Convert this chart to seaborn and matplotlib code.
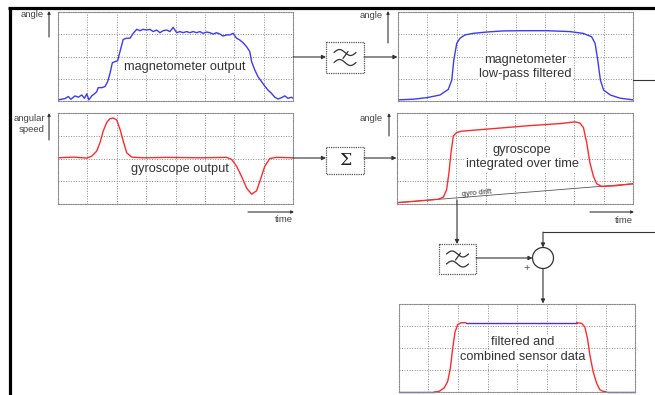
import numpy as np
import pandas as pd
import matplotlib
matplotlib.use("Agg")
import matplotlib.pyplot as plt
import seaborn as sns
from matplotlib.patches import Rectangle, Circle

sns.set_theme(style="white")
plt.rcParams['font.family'] = ['Liberation Sans', 'DejaVu Sans']

# ---------------- data ----------------
# magnetometer output (noisy)
mag_x = [0, 0.13, 0.24, 0.35, 0.44, 0.58, 0.69, 0.81, 0.90, 0.98,
         1.05, 1.15, 1.24, 1.32, 1.37, 1.49, 1.60, 1.69, 1.77, 1.85,
         1.94, 2.03, 2.11, 2.22, 2.34, 2.45, 2.56, 2.68, 2.79, 2.90,
         3.02, 3.13, 3.24, 3.36, 3.47, 3.58, 3.70, 3.81, 3.92, 4.04,
         4.15, 4.26, 4.38, 4.49, 4.60, 4.72, 4.83, 4.94, 5.06, 5.17,
         5.28, 5.40, 5.51, 5.62, 5.74, 5.85, 5.96, 6.08, 6.19, 6.30,
         6.42, 6.53, 6.59, 6.70, 6.81, 6.93, 7.04, 7.15, 7.27, 7.38,
         7.49, 7.61, 7.72, 7.83, 7.95, 8.0]
mag_y = [0.05, 0.08, 0.11, 0.20, 0.08, 0.23, 0.17, 0.27, 0.12, 0.32,
         0.05, 0.23, 0.32, 0.42, 0.60, 0.60, 0.65, 0.87, 1.24, 1.72,
         1.77, 1.81, 2.22, 2.77, 2.82, 2.82, 3.04, 3.22, 3.16, 3.22,
         3.19, 3.22, 3.12, 3.19, 3.07, 3.16, 3.19, 3.12, 3.31, 3.07,
         3.12, 3.07, 3.12, 3.07, 3.12, 3.07, 3.12, 3.04, 3.10, 3.07,
         3.01, 3.07, 3.01, 2.92, 2.97, 2.97, 3.04, 2.82, 2.74, 2.62,
         2.44, 2.22, 1.77, 1.39, 1.09, 0.87, 0.67, 0.49, 0.34, 0.17,
         0.09, 0.15, 0.23, 0.12, 0.17, 0.12]

# magnetometer low-pass filtered
lp_x = [0, 0.52, 0.98, 1.43, 1.71, 1.83, 1.90, 2.00, 2.11, 2.28, 2.56, 3.02, 3.58,
        4.26, 5.06, 5.85, 6.30, 6.59, 6.71, 6.80, 6.89, 7.00, 7.23, 7.55, 8.0]
lp_y = [0.05, 0.08, 0.15, 0.27, 0.52, 0.94, 1.84, 2.59, 2.82, 2.97, 3.04, 3.10, 3.15,
        3.16, 3.16, 3.12, 3.04, 2.89, 2.59, 1.84, 0.94, 0.49, 0.27, 0.13, 0.05]

# gyroscope output (angular speed)
gyro_x = [0, 0.52, 0.98, 1.15, 1.32, 1.43, 1.54, 1.66, 1.77, 1.88, 2.00, 2.11, 2.22, 2.34, 2.51,
          2.90, 3.70, 4.83, 5.74, 5.91, 6.08, 6.25, 6.42, 6.59, 6.76, 6.87, 7.04, 7.21, 7.44, 8.0]
gyro_y = [2.03, 2.06, 2.02, 2.10, 2.33, 2.70, 3.21, 3.59, 3.75, 3.78, 3.69, 3.29, 2.77, 2.25, 2.06,
          2.03, 2.05, 2.03, 2.05, 1.96, 1.66, 1.21, 0.70, 0.43, 0.58, 0.99, 1.66, 2.00, 2.05, 2.03]

# gyroscope integrated over time
integ_x = [0, 0.61, 1.40, 1.57, 1.68, 1.76, 1.83, 1.91, 2.02, 2.19, 3.32, 4.45, 5.58,
           6.03, 6.20, 6.32, 6.43, 6.54, 6.66, 6.77, 6.94, 7.39, 8.0]
integ_y = [0.06, 0.12, 0.21, 0.30, 0.62, 1.36, 2.25, 2.99, 3.14, 3.20, 3.32, 3.44, 3.54,
           3.61, 3.56, 3.36, 2.70, 1.81, 1.21, 0.89, 0.77, 0.80, 0.89]
drift_x = [0, 8.0]
drift_y = [0.06, 0.89]

# filtered and combined sensor data (part: which source dominates)
comb_x = [0, 1.19,
          1.19, 1.36, 1.53, 1.65, 1.74, 1.82, 1.90, 1.99, 2.10, 2.27,
          2.27, 6.02,
          6.02, 6.19, 6.30, 6.39, 6.47, 6.58, 6.70, 6.81, 6.92, 7.04,
          7.04, 8.0]
comb_y = [0, 0,
          0, 0.03, 0.18, 0.48, 1.08, 1.98, 2.73, 3.06, 3.15, 3.15,
          3.15, 3.15,
          3.15, 3.12, 2.95, 2.43, 1.68, 0.93, 0.40, 0.10, 0.03, 0,
          0, 0]
comb_part = ['a'] * 2 + ['b'] * 10 + ['c'] * 2 + ['d'] * 10 + ['e'] * 2

# ---------------- styling ----------------
BLUE = '#3b3bf5'
BLUE2 = '#4a35c8'
RED = '#ff2b2b'
GRID = '#8a8a8a'
TXT = '#333333'
LINE = '#333333'

W, H = 655, 395
fig = plt.figure(figsize=(W / 100, H / 100), dpi=100)
fig.patch.set_facecolor('white')


def panel(x0, y0, x1, y1):
    ax = fig.add_axes([x0 / W, 1 - y1 / H, (x1 - x0) / W, (y1 - y0) / H])
    return ax


def finish(ax):
    ax.set_xlim(0, 8)
    ax.set_ylim(0, 4)
    ax.set_xticks(range(9))
    ax.set_yticks(range(5))
    ax.tick_params(length=0, labelbottom=False, labelleft=False)
    ax.grid(True, color=GRID, linestyle=(0, (1, 1.6)), linewidth=0.7)
    ax.set_axisbelow(True)
    for s in ax.spines.values():
        s.set_linestyle((0, (1, 1.2)))
        s.set_color(GRID)
        s.set_linewidth(0.8)
    ax.set_facecolor('white')
    ax.set_xlabel('')
    ax.set_ylabel('')


ax1 = panel(58, 12, 293, 101)
sns.lineplot(x=mag_x, y=mag_y, ax=ax1, color=BLUE, linewidth=1.0, estimator=None, sort=False)
finish(ax1)

ax2 = panel(398, 12, 633, 101)
sns.lineplot(x=lp_x, y=lp_y, ax=ax2, color=BLUE, linewidth=1.0, estimator=None, sort=False)
finish(ax2)

ax3 = panel(58, 113, 293, 204)
sns.lineplot(x=gyro_x, y=gyro_y, ax=ax3, color=RED, linewidth=1.0, estimator=None, sort=False)
finish(ax3)

ax4 = panel(397, 113, 633, 204)
sns.lineplot(x=drift_x, y=drift_y, ax=ax4, color='#555555', linewidth=0.6, estimator=None, sort=False)
sns.lineplot(x=integ_x, y=integ_y, ax=ax4, color=RED, linewidth=1.0, estimator=None, sort=False)
finish(ax4)

ax5 = panel(399, 304, 635, 392)
comb_df = pd.DataFrame({'x': comb_x, 'y': comb_y, 'part': comb_part})
sns.lineplot(data=comb_df, x='x', y='y', hue='part', ax=ax5,
             palette={'a': BLUE2, 'b': RED, 'c': BLUE2, 'd': RED, 'e': BLUE2},
             linewidth=1.0, estimator=None, sort=False, legend=False)
for ln in ax5.lines:
    ln.set_clip_on(False)
finish(ax5)

# ---------------- overlay for the block diagram ----------------
ov = fig.add_axes([0, 0, 1, 1], facecolor='none')
ov.set_xlim(0, W)
ov.set_ylim(H, 0)
ov.axis('off')


def arrow(x0, y0, x1, y1, ms=6):
    ov.annotate('', xy=(x1, y1), xytext=(x0, y0),
                arrowprops=dict(arrowstyle='-|>', color=LINE, lw=0.8,
                                mutation_scale=ms, shrinkA=0, shrinkB=0))


def line(xs, ys):
    ov.plot(xs, ys, color=LINE, lw=0.8)


def label(x, y, s, size=9.2):
    ov.text(x, y, s, ha='center', va='center', fontsize=size, color=TXT,
            bbox=dict(fc='white', ec='none', pad=0.8))


# black frame
ov.plot([9.5, 9.5], [7.5, 396], color='black', lw=2.3, solid_capstyle='butt')
ov.plot([8.4, 656], [7.5, 7.5], color='black', lw=2.3, solid_capstyle='butt')

# in-panel labels
label(185, 67, 'magnetometer output')
label(525, 60, 'magnetometer')
label(525, 73.5, 'low-pass filtered')
label(180, 169, 'gyroscope output')
label(522, 150, 'gyroscope')
label(522, 164.5, 'integrated over time')
label(523, 342, 'filtered and')
label(523, 357, 'combined sensor data')

# axis labels
small = dict(fontsize=6.8, color='#444444', va='center')
ov.text(44, 14.5, 'angle', ha='right', **small)
ov.text(383, 15, 'angle', ha='right', **small)
ov.text(45, 118.5, 'angular', ha='right', **small)
ov.text(45, 130, 'speed', ha='right', **small)
ov.text(383, 118.5, 'angle', ha='right', **small)
ov.text(293, 220, 'time', ha='right', **small)
ov.text(633, 220.5, 'time', ha='right', **small)
arrow(49, 37, 49, 11, ms=4)
arrow(388, 43, 388, 11, ms=4)
arrow(49, 140, 49, 113, ms=4)
arrow(389, 136, 389, 113, ms=4)
arrow(248, 212, 294, 212, ms=4)
arrow(590, 212, 634, 212, ms=4)

ov.text(477, 193, 'gyro drift', ha='center', va='center', fontsize=5.5,
        color='#333333', rotation=5)

# blocks
box_kw = dict(fill=True, fc='white', ec='#555555', lw=0.9, linestyle=(0, (1, 0.8)))
ov.add_patch(Rectangle((326, 42), 38, 31, **box_kw))
ov.add_patch(Rectangle((326, 147), 38, 27, **box_kw))
ov.add_patch(Rectangle((439, 244), 37, 30, **box_kw))


def lowpass_icon(cx, cy):
    t = np.linspace(0, 1, 40)
    for dy in (-5.0, 5.0):
        ov.plot(cx - 11 + 22 * t, cy + dy - 3.0 * np.sin(2 * np.pi * t), color='#333333', lw=0.9)
    ov.plot([cx - 2, cx + 3], [cy + 1, cy - 6], color='#333333', lw=0.9)


lowpass_icon(345, 57.5)
lowpass_icon(457.5, 259)
ov.text(345, 160.5, 'Σ', ha='center', va='center', fontsize=12.5,
        family=['DejaVu Serif'], color='#222222')

# connections
arrow(293, 57, 326, 57)
arrow(364, 57, 397.5, 57)
arrow(293, 158, 326, 158)
arrow(364, 158, 396.5, 158)
line([633, 656], [80, 80])
arrow(457, 200, 457, 244)
arrow(476, 258, 532.5, 258)
line([656, 543], [232, 232])
arrow(543, 232, 543, 247.5)
ov.add_patch(Circle((543, 258), 10.5, fill=True, fc='white', ec='#333333', lw=0.9))
ov.text(527, 268, '+', ha='center', va='center', fontsize=8, color='#555555')
arrow(543, 268.5, 543, 303.5)

fig.savefig('out.png', dpi=100, facecolor='white')
